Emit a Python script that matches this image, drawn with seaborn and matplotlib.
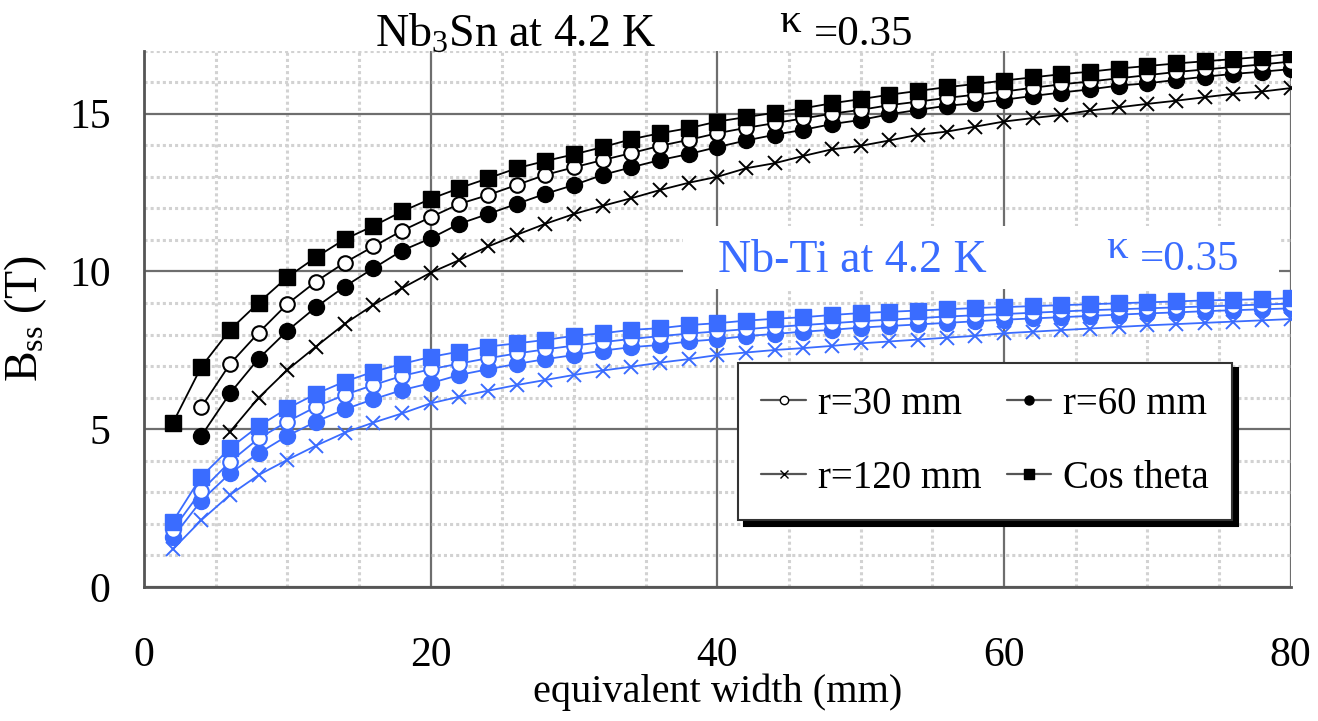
import numpy as np
import pandas as pd
import matplotlib
matplotlib.use("Agg")
import matplotlib.pyplot as plt
import seaborn as sns
from matplotlib.lines import Line2D
from matplotlib.patches import Rectangle
from matplotlib.ticker import MultipleLocator

# ---------------- data ----------------
x_all = list(range(2, 82, 2))          # 2 .. 80
x_from4 = list(range(4, 82, 2))        # 4 .. 80
x_from6 = list(range(6, 82, 2))        # 6 .. 80

nb3sn_cos = [5.19, 6.98, 8.15, 9.01, 9.82, 10.45, 11.02, 11.44, 11.90, 12.30,
             12.64, 12.95, 13.27, 13.50, 13.71, 13.94, 14.19, 14.38, 14.54, 14.75,
             14.89, 15.03, 15.17, 15.33, 15.46, 15.60, 15.72, 15.84, 15.94, 16.05,
             16.15, 16.25, 16.33, 16.43, 16.51, 16.59, 16.66, 16.73, 16.80, 16.89]
nb3sn_r30 = [5.70, 7.07, 8.06, 8.97, 9.68, 10.28, 10.79, 11.29, 11.72,
             12.14, 12.42, 12.74, 13.06, 13.30, 13.53, 13.75, 13.98, 14.17, 14.38,
             14.55, 14.70, 14.85, 15.00, 15.12, 15.27, 15.38, 15.50, 15.60, 15.70,
             15.82, 15.93, 16.02, 16.12, 16.22, 16.32, 16.40, 16.48, 16.56, 16.65]
nb3sn_r60 = [4.79, 6.14, 7.24, 8.12, 8.87, 9.52, 10.10, 10.66, 11.05,
             11.51, 11.82, 12.14, 12.46, 12.74, 13.06, 13.30, 13.53, 13.72, 13.94,
             14.15, 14.33, 14.49, 14.67, 14.80, 14.98, 15.12, 15.25, 15.33, 15.44,
             15.56, 15.67, 15.77, 15.89, 15.96, 16.07, 16.17, 16.26, 16.33, 16.41]
nb3sn_r120 = [4.92, 6.00, 6.88, 7.62, 8.34, 8.94, 9.47, 9.96,
              10.36, 10.79, 11.16, 11.51, 11.82, 12.08, 12.32, 12.58, 12.81, 13.00,
              13.27, 13.43, 13.66, 13.87, 13.98, 14.15, 14.33, 14.43, 14.59, 14.75,
              14.86, 14.96, 15.10, 15.20, 15.31, 15.41, 15.52, 15.63, 15.70, 15.81]

nbti_cos = [2.07, 3.50, 4.40, 5.10, 5.66, 6.12, 6.51, 6.82, 7.07, 7.29,
            7.46, 7.62, 7.72, 7.83, 7.96, 8.04, 8.15, 8.20, 8.30, 8.36,
            8.44, 8.50, 8.55, 8.62, 8.68, 8.72, 8.76, 8.80, 8.84, 8.87,
            8.90, 8.93, 8.96, 8.99, 9.02, 9.05, 9.08, 9.10, 9.12, 9.15]
nbti_r30 = [1.81, 3.05, 3.97, 4.71, 5.24, 5.71, 6.09, 6.40, 6.69, 6.90,
            7.08, 7.25, 7.40, 7.53, 7.65, 7.76, 7.86, 7.95, 8.03, 8.10,
            8.17, 8.24, 8.30, 8.36, 8.42, 8.47, 8.52, 8.57, 8.61, 8.65,
            8.69, 8.73, 8.77, 8.80, 8.83, 8.86, 8.89, 8.92, 8.95, 8.98]
nbti_r60 = [1.57, 2.74, 3.60, 4.24, 4.79, 5.24, 5.63, 5.95, 6.24, 6.46,
            6.72, 6.90, 7.07, 7.22, 7.35, 7.49, 7.60, 7.67, 7.78, 7.85,
            7.95, 8.02, 8.09, 8.15, 8.22, 8.27, 8.32, 8.37, 8.42, 8.47,
            8.51, 8.55, 8.59, 8.63, 8.67, 8.70, 8.74, 8.77, 8.80, 8.83]
nbti_r120 = [1.19, 2.12, 2.92, 3.55, 4.03, 4.48, 4.89, 5.21, 5.50, 5.82,
             6.03, 6.22, 6.40, 6.56, 6.72, 6.86, 6.98, 7.11, 7.22, 7.35,
             7.43, 7.51, 7.57, 7.64, 7.72, 7.78, 7.84, 7.90, 7.96, 8.04,
             8.09, 8.14, 8.19, 8.24, 8.29, 8.33, 8.37, 8.41, 8.45, 8.49]

legend_labels = ["r=30 mm", "r=60 mm", "r=120 mm", "Cos theta"]
x_ticks = [0, 20, 40, 60, 80]
y_ticks = [0, 5, 10, 15]

# ---------------- style ----------------
sns.set_style("white")
plt.rcParams["font.family"] = ["Liberation Serif", "DejaVu Serif"]
plt.rcParams["mathtext.fontset"] = "custom"
plt.rcParams["mathtext.rm"] = "Liberation Serif"
plt.rcParams["mathtext.it"] = "Liberation Serif:italic"
plt.rcParams["text.color"] = "black"
plt.rcParams["axes.labelcolor"] = "black"

BLACK = "#000000"
BLUE = "#3a6cff"

fig = plt.figure(figsize=(13.18, 7.21), dpi=100)
ax = fig.add_axes([0.1093, 0.1859, 0.8700, 0.7440])

def draw(xs, ys, color, kind):
    df = pd.DataFrame({"x": xs, "y": ys})
    kw = dict(color=color, lw=1.3, zorder=4, legend=False, ax=ax)
    if kind == "open":
        kw.update(marker="o", markersize=10.5, markerfacecolor="white",
                  markeredgecolor=color, markeredgewidth=1.5)
    elif kind == "filled":
        kw.update(marker="o", markersize=11.5, markerfacecolor=color,
                  markeredgecolor=color, markeredgewidth=1.0)
    elif kind == "cross":
        kw.update(marker="x", markersize=10.5, markeredgecolor=color,
                  markeredgewidth=1.4)
    else:
        kw.update(marker="s", markersize=11.5, markerfacecolor=color,
                  markeredgecolor=color, markeredgewidth=1.0)
    sns.lineplot(data=df, x="x", y="y", **kw)

# Nb-Ti (blue)
draw(x_all, nbti_r120, BLUE, "cross")
draw(x_all, nbti_r60, BLUE, "filled")
draw(x_all, nbti_r30, BLUE, "open")
draw(x_all, nbti_cos, BLUE, "square")
# Nb3Sn (black)
draw(x_from6, nb3sn_r120, BLACK, "cross")
draw(x_from4, nb3sn_r60, BLACK, "filled")
draw(x_from4, nb3sn_r30, BLACK, "open")
draw(x_all, nb3sn_cos, BLACK, "square")

ax.set_xlim(0, 80)
ax.set_ylim(0, 17)
ax.set_xticks(x_ticks)
ax.set_yticks(y_ticks)
ax.xaxis.set_minor_locator(MultipleLocator(5))
ax.yaxis.set_minor_locator(MultipleLocator(1))

ax.grid(which="major", color="#6e6e6e", lw=1.6, ls="-", zorder=0)
ax.grid(which="minor", color="#d2d2d2", lw=2.2, ls=(0, (1, 1)), zorder=0)
ax.set_axisbelow(True)

for s in ["top", "right"]:
    ax.spines[s].set_visible(False)
for s in ["left", "bottom"]:
    ax.spines[s].set_color("#555555")
    ax.spines[s].set_linewidth(2.0)

ax.tick_params(axis="both", which="major", direction="in", length=9,
               width=1.8, color="#555555", labelsize=30, labelcolor="black")
ax.tick_params(axis="both", which="minor", direction="in", length=7,
               width=1.6, color="#555555")
ax.tick_params(axis="y", which="major", pad=24)
ax.tick_params(axis="x", which="major", pad=36)

ax.set_xlabel("equivalent width (mm)", fontsize=29, color="black")
ax.set_ylabel(r"B$_{\mathrm{ss}}$ (T)", fontsize=33, color="black")
ax.xaxis.set_label_coords(0.5, -0.162)
ax.yaxis.set_label_coords(-0.083, 0.5)

# white box hiding grid behind Nb-Ti annotation
ax.add_patch(Rectangle((0.470, 0.555), 0.52, 0.118, transform=ax.transAxes,
                       facecolor="white", edgecolor="none", zorder=1))

W, H = 1318.0, 721.0
fig.text(375 / W, 1 - 47 / H, r"Nb$_3$Sn at 4.2 K", fontsize=33,
         ha="left", va="baseline")
fig.text(779 / W, 1 - 32 / H, "κ", fontsize=31, ha="left", va="baseline")
fig.text(814 / W, 1 - 45 / H, "=0.35", fontsize=31, ha="left", va="baseline")

fig.text(718 / W, 1 - 272 / H, "Nb-Ti at 4.2 K", fontsize=33, color=BLUE,
         ha="left", va="baseline")
fig.text(1106 / W, 1 - 258 / H, "κ", fontsize=31, color=BLUE,
         ha="left", va="baseline")
fig.text(1140 / W, 1 - 270 / H, "=0.35", fontsize=31, color=BLUE,
         ha="left", va="baseline")

# legend (column-wise fill -> reorder so rows read r30 | r60, r120 | Cos)
hcol = "#555555"
h_r30 = Line2D([], [], color=hcol, lw=1.6, marker="o", markersize=6,
               markerfacecolor="white", markeredgecolor="black", markeredgewidth=1.0)
h_r60 = Line2D([], [], color=hcol, lw=1.6, marker="o", markersize=6.5,
               markerfacecolor="black", markeredgecolor="black")
h_r120 = Line2D([], [], color=hcol, lw=1.6, marker="x", markersize=6,
                markeredgecolor="black", markeredgewidth=1.0)
h_cos = Line2D([], [], color=hcol, lw=1.6, marker="s", markersize=6.5,
               markerfacecolor="black", markeredgecolor="black")
handles = [h_r30, h_r120, h_r60, h_cos]
labels = [legend_labels[0], legend_labels[2], legend_labels[1], legend_labels[3]]
leg = ax.legend(handles, labels, ncol=2, loc="upper left",
                bbox_to_anchor=(0.518, 0.418), borderaxespad=0,
                fontsize=28, frameon=True, fancybox=False, framealpha=1,
                handlelength=1.15, handletextpad=0.3, columnspacing=0.65,
                labelspacing=0.95, borderpad=0.6,
                shadow={"ox": 4, "oy": -4, "facecolor": "black",
                        "edgecolor": "black", "alpha": 1})
leg.get_frame().set_edgecolor("#333333")
leg.get_frame().set_linewidth(1.5)
leg.set_zorder(6)

fig.savefig("out.png", dpi=100, facecolor="white")
